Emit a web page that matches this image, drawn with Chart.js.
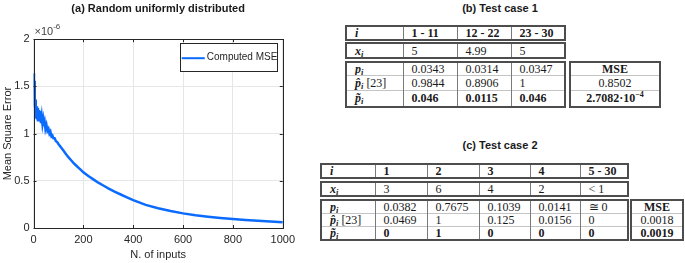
<!DOCTYPE html>
<html>
<head>
<meta charset="utf-8">
<script src="https://cdn.jsdelivr.net/npm/chart.js@4.4.0/dist/chart.umd.min.js"></script>
<style>
  body { margin: 0; width: 685px; height: 263px; position: relative; overflow: hidden; background: #fff;
         font-family: "Liberation Serif", "Times New Roman", serif; color: #1a1a1a; }
  #plot { position: absolute; left: 0; top: 0; }
  .ttl { position: absolute; font: bold 11px "Liberation Sans", Arial, sans-serif; color: #1a1a1a;
         transform: translateX(-50%); white-space: nowrap; line-height: 13px; }
  table { position: absolute; border-collapse: collapse; table-layout: fixed; font-size: 12px;
          border: 2px solid #4d4d4d; background: #fff; }
  td { padding: 0 0 0 8px; white-space: nowrap; overflow: hidden; line-height: 12px;
       border-left: 1px solid #7a7a7a; vertical-align: middle; }
  td b, td i { font-family: "Liberation Serif", "Times New Roman", serif; }
  tr + tr td { border-top: 1px solid #c4c4c4; }
  table.c td { text-align: center; padding: 0; }
  sub { font-size: 8.5px; vertical-align: -2px; line-height: 0; }
  sup { font-size: 8px; vertical-align: 5px; line-height: 0; }
</style>
</head>
<body>
<canvas id="plot" width="300" height="263"></canvas>
<div class="ttl" style="left:500px;top:2px">(b) Test case 1</div>
<div class="ttl" style="left:500px;top:139px">(c) Test case 2</div>
<script>
// (a) MSE against number of inputs, values in units of 1e-6
const inputs = [1, 2, 3, 4, 5, 6, 7, 8, 9, 10, 12, 14, 16, 18, 20, 22, 24, 26, 28, 30,
  33, 36, 39, 42, 45, 48, 52, 56, 60, 64, 68, 72, 76, 80, 85, 90, 95, 100,
  110, 120, 130, 140, 150, 160, 170, 180, 190, 200, 220, 240, 260, 280, 300,
  325, 350, 375, 400, 450, 500, 550, 600, 650, 700, 750, 800, 850, 900, 950, 1000];
const mse = [1.64, 1.50, 1.56, 1.38, 1.44, 1.28, 1.36, 1.20, 1.32, 1.16, 1.29, 1.15, 1.27, 1.13, 1.25, 1.14, 1.24, 1.13, 1.21, 1.11,
  1.18, 1.10, 1.15, 1.08, 1.12, 1.05, 1.09, 1.03, 1.05, 1.00, 1.02, 0.97, 0.98, 0.95, 0.95, 0.92, 0.91, 0.89,
  0.855, 0.82, 0.785, 0.75, 0.72, 0.69, 0.665, 0.64, 0.615, 0.59, 0.55, 0.515, 0.48, 0.45, 0.42,
  0.385, 0.355, 0.325, 0.295, 0.245, 0.21, 0.18, 0.155, 0.135, 0.12, 0.107, 0.095, 0.085, 0.077, 0.069, 0.062];
const xTicks = [0, 200, 400, 600, 800, 1000];
const yTicks = [0, 0.5, 1, 1.5, 2];

// (b) test case 1
const case1Cols = ['1 - 11', '12 - 22', '23 - 30'];
const case1X = ['5', '4.99', '5'];
const case1P = ['0.0343', '0.0314', '0.0347'];
const case1PHat = ['0.9844', '0.8906', '1'];
const case1PTilde = ['0.046', '0.0115', '0.046'];
const case1Mse = ['0.8502', '2.7082·10<sup>−4</sup>'];

// (c) test case 2
const case2Cols = ['1', '2', '3', '4', '5 - 30'];
const case2X = ['3', '6', '4', '2', '&lt; 1'];
const case2P = ['0.0382', '0.7675', '0.1039', '0.0141', '≅ 0'];
const case2PHat = ['0.0469', '1', '0.125', '0.0156', '0'];
const case2PTilde = ['0', '1', '0', '0', '0'];
const case2Mse = ['0.0018', '0.0019'];

const BLUE = '#0b6bff';
const AXIS = '#262626';

Chart.defaults.font.family = '"Liberation Sans", Arial, sans-serif';
Chart.defaults.font.size = 11;
Chart.defaults.color = AXIS;

// matlab style box, inward ticks, exponent and legend inside the axes
const matlabBox = {
  id: 'matlabBox',
  afterDatasetsDraw(chart) {
    const { ctx, chartArea: a, scales: { x, y } } = chart;
    ctx.save();
    ctx.strokeStyle = AXIS;
    ctx.lineWidth = 1;
    ctx.strokeRect(Math.round(a.left) + 0.5, Math.round(a.top) + 0.5,
      Math.round(a.right - a.left), Math.round(a.bottom - a.top));
    ctx.beginPath();
    x.ticks.forEach(t => {
      const px = Math.round(x.getPixelForValue(t.value)) + 0.5;
      ctx.moveTo(px, a.bottom); ctx.lineTo(px, a.bottom - 3);
      ctx.moveTo(px, a.top); ctx.lineTo(px, a.top + 3);
    });
    y.ticks.forEach(t => {
      const py = Math.round(y.getPixelForValue(t.value)) + 0.5;
      ctx.moveTo(a.left, py); ctx.lineTo(a.left + 3, py);
      ctx.moveTo(a.right, py); ctx.lineTo(a.right - 3, py);
    });
    ctx.stroke();

    ctx.fillStyle = '#444';
    ctx.textBaseline = 'alphabetic';
    ctx.font = '11px "Liberation Sans", Arial, sans-serif';
    ctx.fillText('×10', a.left + 1, a.top - 4);
    const w = ctx.measureText('×10').width;
    ctx.font = '8px "Liberation Sans", Arial, sans-serif';
    ctx.fillText('-6', a.left + 1 + w, a.top - 10);

    const ds = chart.data.datasets[0];
    const bx = a.right - 103, by = a.top + 4, bw = 97, bh = 28;
    ctx.fillStyle = '#fff';
    ctx.fillRect(bx, by, bw, bh);
    ctx.strokeStyle = AXIS;
    ctx.strokeRect(Math.round(bx) + 0.5, Math.round(by) + 0.5, bw, bh);
    ctx.strokeStyle = ds.borderColor;
    ctx.lineWidth = 2;
    ctx.beginPath();
    ctx.moveTo(bx + 2, by + 15); ctx.lineTo(bx + 25, by + 15);
    ctx.stroke();
    ctx.fillStyle = AXIS;
    ctx.font = '10px "Liberation Sans", Arial, sans-serif';
    ctx.textBaseline = 'middle';
    ctx.fillText(ds.label, bx + 27, by + 14.5);
    ctx.restore();
  }
};

new Chart(document.getElementById('plot'), {
  type: 'line',
  data: {
    datasets: [{
      label: 'Computed MSE',
      data: inputs.map((n, i) => ({ x: n, y: mse[i] })),
      borderColor: BLUE,
      borderWidth: 2.5,
      pointRadius: 0,
      tension: 0
    }]
  },
  options: {
    responsive: false,
    animation: false,
    layout: { padding: { right: 17, top: 0, bottom: 0, left: 0 } },
    plugins: {
      legend: { display: false },
      tooltip: { enabled: false },
      title: {
        display: true,
        text: '(a) Random uniformly distributed',
        fullSize: false,
        color: '#1a1a1a',
        font: { size: 11, weight: 'bold' },
        padding: { top: 2, bottom: 24 }
      }
    },
    scales: {
      x: {
        type: 'linear', min: 0, max: 1000,
        afterBuildTicks: s => { s.ticks = xTicks.map(v => ({ value: v })); },
        afterFit: s => { s.height = 35; },
        ticks: { padding: 5, maxRotation: 0, autoSkip: false, callback: v => String(v) },
        grid: { color: '#e6e6e6', drawTicks: false },
        border: { display: false },
        title: { display: true, text: 'N. of inputs', font: { size: 11 }, padding: { top: 0, bottom: 1 } }
      },
      y: {
        type: 'linear', min: 0, max: 2,
        afterBuildTicks: s => { s.ticks = yTicks.map(v => ({ value: v })); },
        afterFit: s => { s.width = 33.5; },
        ticks: { padding: 4, callback: v => String(v) },
        grid: { color: '#e6e6e6', drawTicks: false },
        border: { display: false },
        title: { display: true, text: 'Mean Square Error', font: { size: 11 }, padding: { top: 1.5, bottom: 0 } }
      }
    }
  },
  plugins: [matlabBox]
});

// tables
function box(left, top, widths, heights, rows, cls) {
  const t = document.createElement('table');
  if (cls) t.className = cls;
  t.style.left = left + 'px';
  t.style.top = top + 'px';
  t.style.width = widths.reduce((a, b) => a + b, 0) + 'px';
  let h = '<colgroup>' + widths.map(w => `<col style="width:${w}px">`).join('') + '</colgroup>';
  rows.forEach((r, i) => {
    h += `<tr style="height:${heights[i]}px">` + r.map(c => `<td>${c}</td>`).join('') + '</tr>';
  });
  t.innerHTML = h;
  document.body.appendChild(t);
}
const bold = a => a.map(v => `<b>${v}</b>`);
const L_I = '<b><i>i</i></b>';
const L_X = '<b><i>x</i><sub><i>i</i></sub></b>';
const L_P = '<b><i>p</i><sub><i>i</i></sub></b>';
const L_PH = '<b><i>p̂</i><sub><i>i</i></sub></b> [23]';
const L_PT = '<b><i>p̃</i><sub><i>i</i></sub></b>';

const w1 = [57, 54, 54, 54];
box(345, 25, w1, [14], [[L_I, ...bold(case1Cols)]]);
box(345, 42, w1, [15], [[L_X, ...case1X]]);
box(345, 61, w1, [13, 15, 16], [[L_P, ...case1P], [L_PH, ...case1PHat], [L_PT, ...bold(case1PTilde)]]);
box(569, 61, [90], [13, 15, 16], [['<b>MSE</b>'], [case1Mse[0]], [`<b>${case1Mse[1]}</b>`]], 'c');

const w2 = [54, 52, 52, 51, 50, 48];
box(320, 163, w2, [14], [[L_I, ...bold(case2Cols)]]);
box(320, 181, w2, [14], [[L_X, ...case2X]]);
box(320, 199, w2, [12, 13, 13], [[L_P, ...case2P], [L_PH, ...case2PHat], [L_PT, ...bold(case2PTilde)]]);
box(630, 199, [52], [12, 13, 13], [['<b>MSE</b>'], [case2Mse[0]], [`<b>${case2Mse[1]}</b>`]], 'c');
</script>
</body>
</html>
